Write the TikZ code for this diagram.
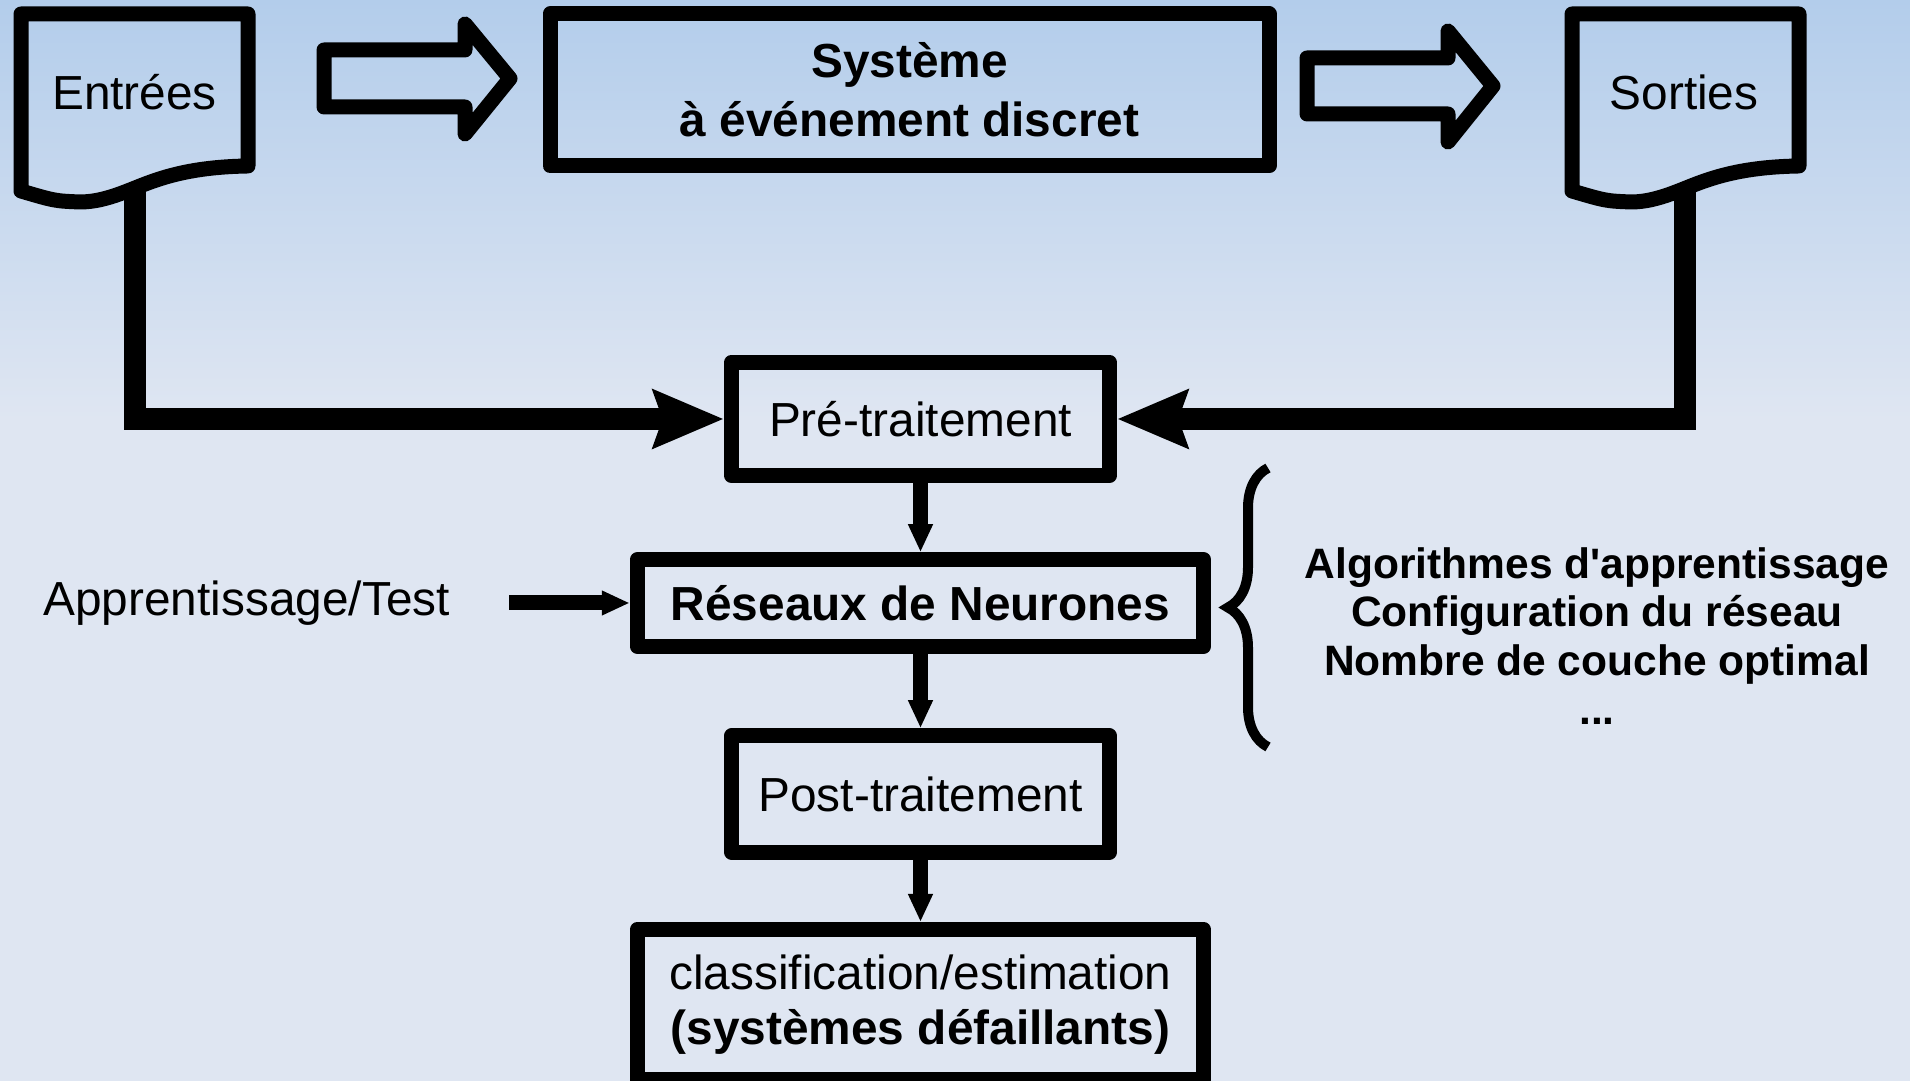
\documentclass[tikz,border=0pt]{standalone}
\usepackage{fontspec}
\setmainfont{Liberation Sans}
\usetikzlibrary{shapes,arrows.meta,positioning,decorations.pathreplacing}
\definecolor{bgtop}{RGB}{179,205,235}
\definecolor{bgbottom}{RGB}{223,230,242}
\tikzstyle{block} = [rectangle, draw, line width=0.15cm, line join=round,
    inner sep=0pt, align=center, font=\fontsize{13.6}{16.8}\selectfont]
\tikzstyle{plain} = [inner sep=0pt, align=center, font=\fontsize{13.6}{16.8}\selectfont]
\tikzstyle{outline} = [draw, line width=0.15cm, line join=round]
\tikzstyle{line} = [draw, line width=0.15cm, -{Triangle[length=0.28cm, width=0.23cm]}]
\tikzstyle{feed} = [draw, line width=0.22cm, -{Stealth[length=0.70cm, width=0.57cm, inset=0.09cm]}]

\begin{document}
\begin{tikzpicture}[node distance=1.9cm, auto]
        \useasboundingbox (0,0) rectangle (19.10,-10.81);
        \shade [top color=bgtop, bottom color=bgbottom] (0,0) rectangle (19.10,-4.2);
        \fill [bgbottom] (0,-4.2) rectangle (19.10,-10.81);

        \node [block, minimum width=7.19cm, minimum height=1.52cm,
            font=\fontsize{13.6}{16.8}\selectfont\bfseries] (systeme) at (9.095,-0.90) {Système\\à événement discret};
        \node [plain, anchor=base] (entrees) at (1.345,-1.10) {Entrées};
        \node [plain, anchor=base] (sorties) at (16.84,-1.10) {Sorties};
        \foreach \dx in {0,15.51}
            \draw [outline, shift={(\dx,0)}] (0.21,-0.14) -- (2.48,-0.14) -- (2.48,-1.66)
                .. controls (1.85,-1.67) and (1.55,-1.80) .. (1.30,-1.90)
                .. controls (1.10,-1.98) and (0.95,-2.02) .. (0.80,-2.02)
                .. controls (0.55,-2.01) .. (0.21,-1.91) -- cycle;
        \draw [outline] (3.24,-0.50) -- (4.65,-0.50) -- (4.65,-0.24) -- (5.10,-0.785)
            -- (4.65,-1.34) -- (4.65,-1.07) -- (3.24,-1.07) -- cycle;
        \draw [outline] (13.07,-0.58) -- (14.48,-0.58) -- (14.48,-0.31) -- (14.93,-0.86)
            -- (14.48,-1.42) -- (14.48,-1.14) -- (13.07,-1.14) -- cycle;

        \node [block, minimum width=3.785cm, minimum height=1.13cm] (pre) at (9.205,-4.19) {Pré-traitement};
        \node [block, below of=pre, node distance=1.84cm, minimum width=5.665cm, minimum height=0.865cm,
            font=\fontsize{13.6}{16.8}\selectfont\bfseries] (reseaux) {Réseaux de Neurones};
        \node [block, below of=reseaux, node distance=1.91cm, minimum width=3.775cm, minimum height=1.165cm] (post) {Post-traitement};
        \node [block, below of=post, node distance=2.105cm, minimum width=5.665cm, minimum height=1.50cm,
            font=\fontsize{13.6}{15.8}\selectfont] (classif) {classification/estimation\\\textbf{(systèmes défaillants)}};
        \node [plain, left of=reseaux, node distance=6.74cm] (apprent) {Apprentissage/Test};
        \node [plain, font=\fontsize{12.1}{13.9}\selectfont\bfseries] (params) at (15.97,-6.36)
            {Algorithmes d\textquotesingle apprentissage\\Configuration du réseau\\Nombre de couche optimal\\...};
        \draw [decorate, decoration={brace, amplitude=0.40cm}, line width=0.10cm] (12.68,-7.47) -- (12.68,-4.68);

        \coordinate (entreesbas) at (1.35,-1.90);
        \coordinate (sortiesbas) at (16.845,-1.90);
        \path [feed] (entreesbas) |- (pre);
        \path [feed] (sortiesbas) |- (pre);
        \path [line] (pre) -- (reseaux);
        \path [line] (reseaux) -- (post);
        \path [line] (post) -- (classif);
        \path [line] ([xshift=0.59cm]apprent.east) -- (reseaux);
    \end{tikzpicture}
\end{document}
